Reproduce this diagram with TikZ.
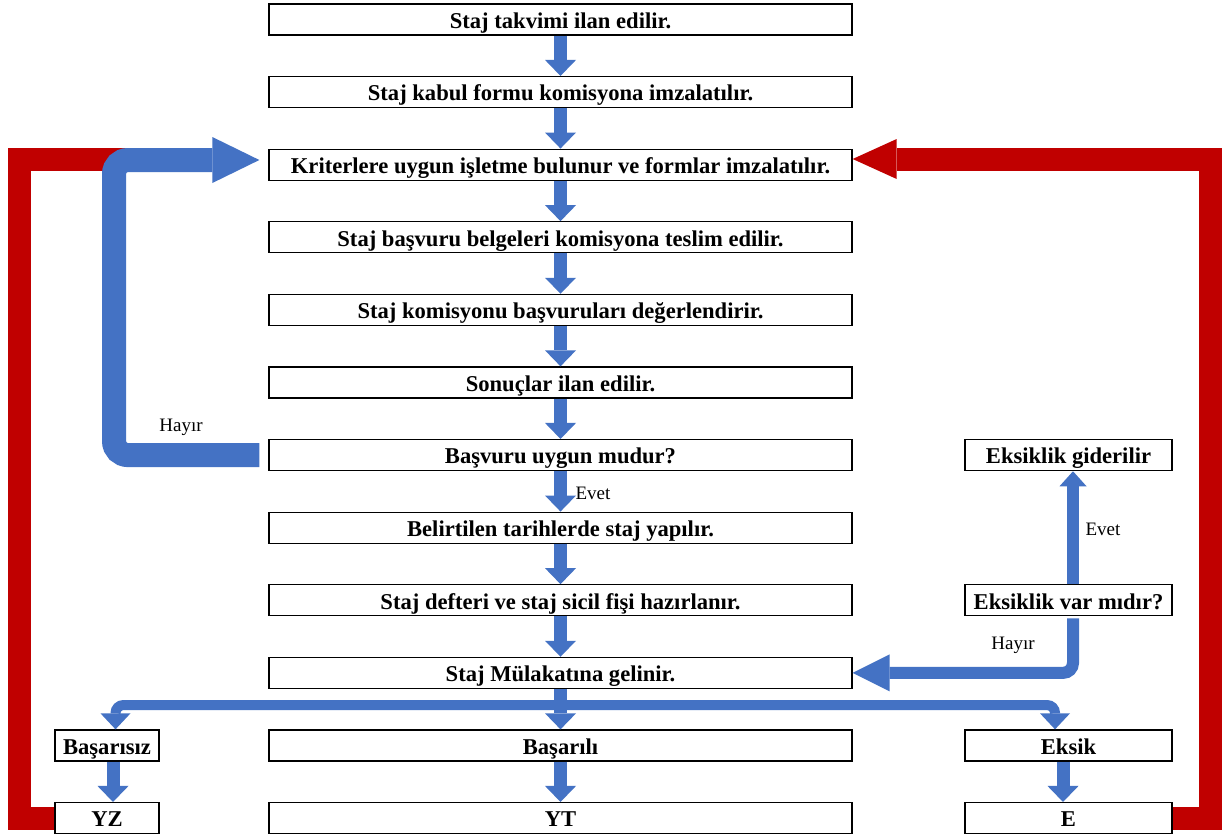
\documentclass[tikz,border=0pt]{standalone}
\usepackage{fontspec}
\setmainfont{Liberation Serif}
\usetikzlibrary{arrows.meta,calc}
\definecolor{fblue}{HTML}{4472C4}
\definecolor{fred}{HTML}{C00000}
\begin{document}
\begin{tikzpicture}[x=1pt,y=-1pt,
 box/.style={draw=black,line width=1.3pt,fill=white,minimum height=31pt,inner sep=0pt,text height=20pt,text depth=2.6pt,font=\fontsize{22.6}{24}\selectfont\bfseries},
 mainbox/.style={box,minimum width=583pt},
 lbox/.style={box,minimum width=104pt},
 rbox/.style={box,minimum width=207pt},
 lbl/.style={inner sep=0pt,font=\fontsize{19}{21}\selectfont},
 flow/.style={draw=fblue,line width=13pt,-{Triangle[width=31pt,length=16pt,line width=0pt]}},
 branch/.style={draw=fblue,line width=10pt,rounded corners=8pt,-{Triangle[width=30pt,length=16pt,line width=0pt]}},
 hookl/.style={draw=fblue,line width=24pt,rounded corners=14pt,-{Triangle[width=46pt,length=47pt,line width=0pt]}},
 hookr/.style={draw=fblue,line width=12pt,rounded corners=10pt,-{Triangle[width=37pt,length=37pt,line width=0pt]}},
 redline/.style={draw=fred,line width=23pt,line join=miter},
 redarrow/.style={redline,-{Triangle[width=40pt,length=44pt,line width=0pt]}}
]
\useasboundingbox[fill=white] (0,0) rectangle (1225,836);

% main column
\node[mainbox] (b0) at (560.5,19.5) {Staj takvimi ilan edilir.};
\node[mainbox] (b1) at (560.5,92.1) {Staj kabul formu komisyona imzalatılır.};
\node[mainbox] (b2) at (560.5,164.7) {Kriterlere uygun işletme bulunur ve formlar imzalatılır.};
\node[mainbox] (b3) at (560.5,237.3) {Staj başvuru belgeleri komisyona teslim edilir.};
\node[mainbox] (b4) at (560.5,309.9) {Staj komisyonu başvuruları değerlendirir.};
\node[mainbox] (b5) at (560.5,382.5) {Sonuçlar ilan edilir.};
\node[mainbox] (b6) at (560.5,455.1) {Başvuru uygun mudur?};
\node[mainbox] (b7) at (560.5,527.7) {Belirtilen tarihlerde staj yapılır.};
\node[mainbox] (b8) at (560.5,600.3) {Staj defteri ve staj sicil fişi hazırlanır.};
\node[mainbox] (b9) at (560.5,672.9) {Staj Mülakatına gelinir.};
\node[mainbox] (b10) at (560.5,745.5) {Başarılı};
\node[mainbox] (b11) at (560.5,818.1) {YT};
% left column
\node[lbox] (bas) at (107,745.5) {Başarısız};
\node[lbox] (yz) at (107,818.1) {YZ};
% right column
\node[rbox] (gid) at (1068.5,455.1) {Eksiklik giderilir};
\node[rbox] (var) at (1068.5,600.3) {Eksiklik var mıdır?};
\node[rbox] (eks) at (1068.5,745.5) {Eksik};
\node[rbox] (e) at (1068.5,818.1) {E};

% labels
\node[lbl] (h1) at (181,427) {Hayır};
\node[lbl] (ev1) at (593,493) {Evet};
\node[lbl] (ev2) at (1103,529) {Evet};
\node[lbl] (h2) at (1013,645) {Hayır};

% red feedback arrows
\coordinate (rl) at (19.5,159);
\coordinate (rr) at (1210,159);
\draw[redline] (yz.west) -| (rl) -- (125,159);
\draw[redarrow] (e.east) -| (rr) -- ($(b2.east)+(0,-5.7)$);

% main flow
\foreach \a/\b in {b0/b1,b1/b2,b2/b3,b3/b4,b4/b5,b5/b6,b6/b7,b7/b8,b8/b9,b9/b10,b10/b11}
  \draw[flow] (\a.south) -- (\b.north);

% left hook (Hayir)
\coordinate (hl1) at (114,455.1);
\coordinate (hl2) at (114,160);
\draw[hookl] ($(b6.west)+(-9,0)$) -- (hl1) -- (hl2) -- ($(b2.west)+(-9,-4.7)$);

% branch after interview
\coordinate (j) at (561,705);
\draw[branch] (j) -| ($(bas.north)+(8.5,0)$);
\draw[branch] (j) -| ($(eks.north)+(-13.5,0)$);
\draw[flow] ($(bas.south)+(6,0)$) -- ($(yz.north)+(6,0)$);
\draw[flow] ($(eks.south)+(-5.5,0)$) -- ($(e.north)+(-5.5,0)$);

% right decision
\draw[draw=fblue,line width=12pt,-{Triangle[width=27pt,length=15pt,line width=0pt]}] ($(var.north)+(4.5,0)$) -- ($(gid.south)+(4.5,0)$);
\coordinate (hr1) at (1073,672.9);
\draw[hookr] ($(var.south)+(4.5,2)$) -- (hr1) -- (b9.east);
\end{tikzpicture}
\end{document}
